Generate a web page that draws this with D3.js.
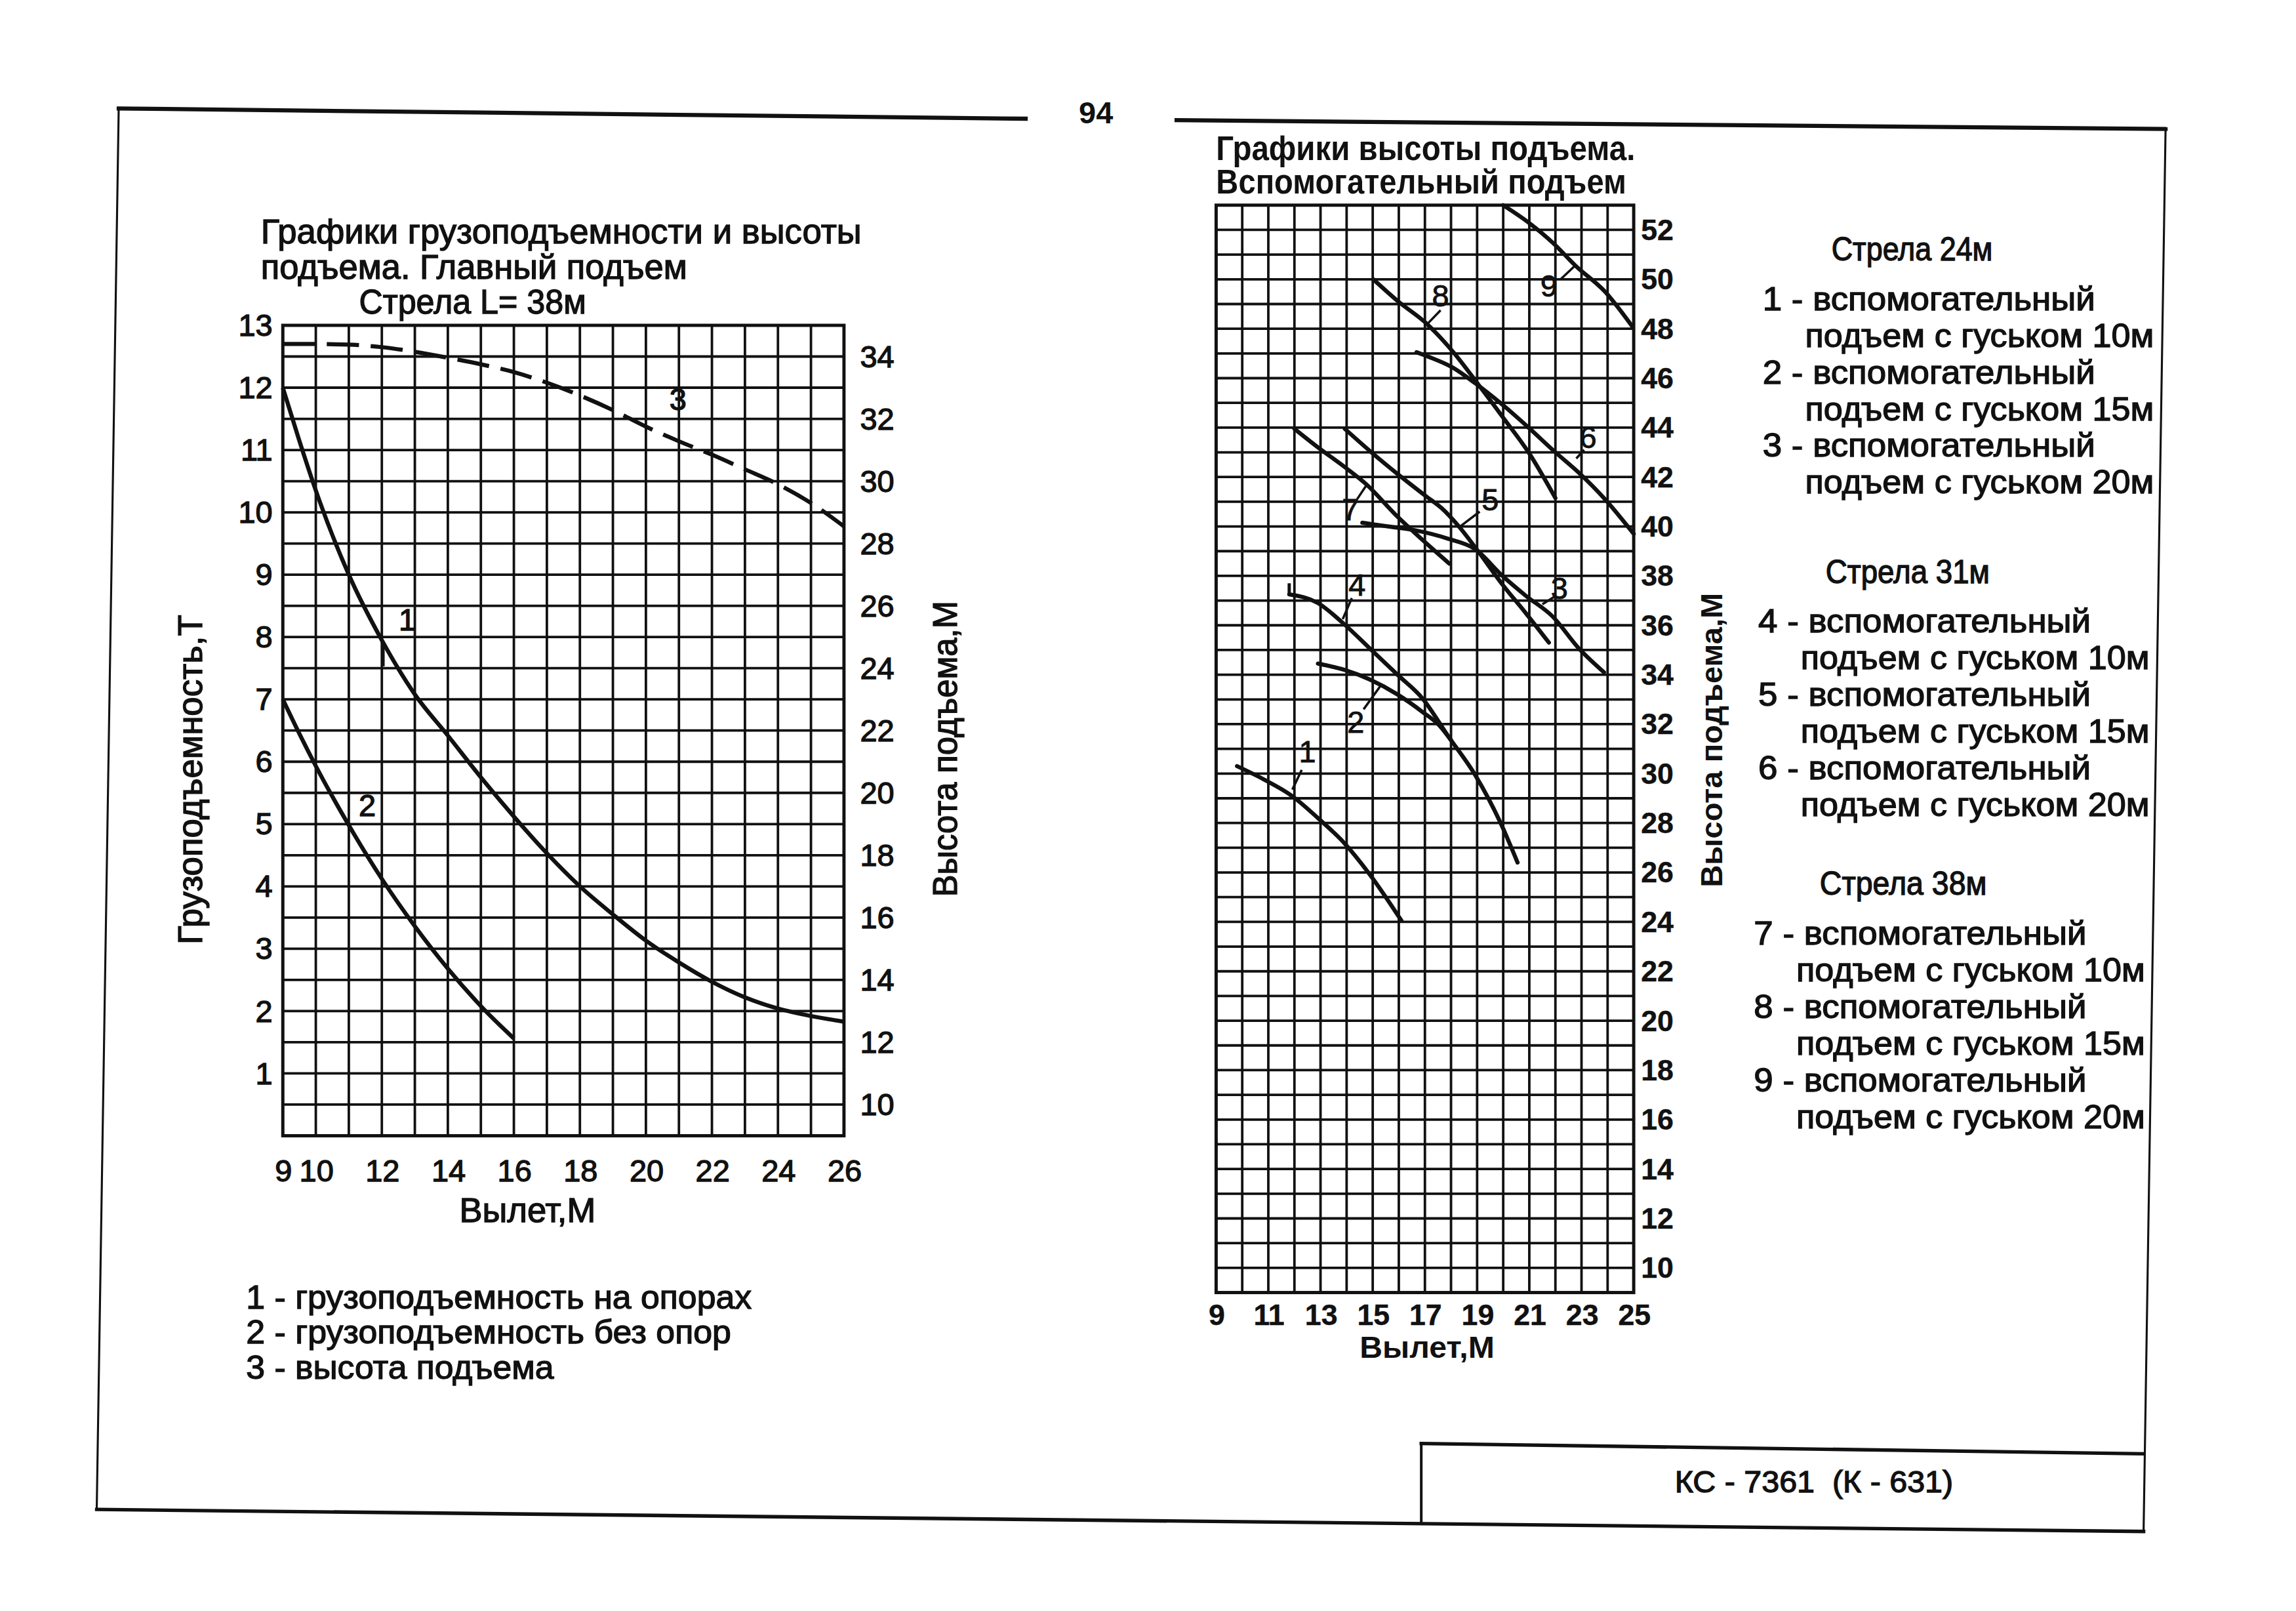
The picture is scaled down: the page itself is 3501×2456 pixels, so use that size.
<!DOCTYPE html>
<html lang="ru"><head><meta charset="utf-8">
<title>КС-7361 (К-631)</title>
<script src="https://cdn.jsdelivr.net/npm/d3@7/dist/d3.min.js"></script>
<style>
html,body{margin:0;padding:0;background:#fff;overflow:hidden;}
svg{display:block;}
text{white-space:pre;}
</style></head><body>
<svg id="chart" width="3501" height="2456" viewBox="0 0 1567 1099.3" xmlns="http://www.w3.org/2000/svg"></svg>
<script>
// ================= DATA =================
// Left chart: main hoist, boom L = 38 m  (radius m -> capacity t / height m)
const leftRadiusTicks = [9, 10, 12, 14, 16, 18, 20, 22, 24, 26];
const capacityTicks = [1, 2, 3, 4, 5, 6, 7, 8, 9, 10, 11, 12, 13];
const leftHeightTicks = [10, 12, 14, 16, 18, 20, 22, 24, 26, 28, 30, 32, 34];
const capacityOnOutriggers = [[9,12.0],[9.5,11.15],[10,10.35],[11,9.0],[12,7.95],[13,7.08],[14,6.42],[15,5.75],[16,5.12],[17,4.53],[18,4.0],[19,3.55],[20,3.13],[21,2.78],[22,2.47],[23,2.22],[24,2.04],[25,1.92],[26,1.83]];
const capacityWithoutOutriggers = [[9,7.0],[9.5,6.45],[10,5.93],[11,4.98],[12,4.12],[13,3.36],[14,2.68],[15,2.08],[16,1.56]];
const mainHookHeight = [[9,34.4],[10,34.4],[11,34.38],[12,34.3],[13,34.15],[14,33.96],[15,33.75],[16,33.5],[17,33.16],[18,32.75],[19,32.28],[20,31.75],[21,31.28],[22,30.85],[23,30.38],[24,29.9],[25,29.3],[26,28.55]];
const leftLegend = ["1 - грузоподъемность на опорах", "2 - грузоподъемность без опор", "3 - высота подъема"];

// Right chart: auxiliary hoist heights (radius m -> height m)
const rightRadiusTicks = [9, 11, 13, 15, 17, 19, 21, 23, 25];
const rightHeightTicks = [10,12,14,16,18,20,22,24,26,28,30,32,34,36,38,40,42,44,46,48,50,52];
const boom24jib10 = [[9.8,30.3],[10.85,29.75],[11.9,29.1],[12.9,28.2],[13.9,27.2],[14.9,25.9],[16.1,24.05]];
const boom24jib15 = [[12.9,34.45],[13.9,34.2],[14.9,33.8],[15.95,33.2],[16.9,32.5],[17.55,31.95],[18.0,31.35]];
const boom24jib20 = [[14.6,40.15],[15.6,40.0],[16.6,39.85],[17.9,39.5],[18.9,39.1],[19.97,38.0],[20.86,37.2],[21.9,36.35],[22.9,35.06],[23.86,34.1]];
const boom31jib10 = [[11.8,37.25],[12.9,36.9],[13.85,36.1],[14.9,35.05],[15.95,34.0],[16.9,33.05],[17.9,31.5],[18.95,29.9],[19.9,28.0],[20.55,26.4]];
const boom31jib15 = [[13.93,43.95],[14.95,43.0],[15.98,42.1],[17.07,41.2],[17.64,40.74],[18.3,40.0],[19.0,39.05],[19.97,37.65],[20.86,36.5],[21.75,35.3]];
const boom31jib20 = [[16.68,47.05],[17.13,46.87],[18.03,46.45],[18.92,45.8],[20.0,44.9],[20.97,44.0],[22.0,43.0],[22.9,42.17],[23.9,41.1],[25.0,39.7]];
const boom38jib10 = [[12.0,43.95],[12.9,43.2],[13.93,42.4],[14.76,41.7],[15.85,40.5],[17.07,39.3],[17.93,38.5]];
const boom38jib15 = [[15.02,50.0],[15.98,49.1],[17.07,48.2],[18.09,47.05],[19.05,45.74],[20.0,44.4],[20.97,43.0],[22.0,41.15]];
const boom38jib20 = [[20.0,53.0],[20.97,52.3],[21.93,51.45],[22.76,50.56],[23.9,49.5],[24.94,48.1]];
const boomTitles = ["Стрела 24м", "Стрела 31м", "Стрела 38м"];
const jibLengths = ["10м", "15м", "20м"];

// ================= DRAWING =================
const FONT = '"Liberation Sans", Arial, sans-serif';
const INK = "#111";
const svg = d3.select("#chart");
svg.append("rect").attr("width", 1567).attr("height", 1099.3).attr("fill", "#fff");

function label(g, str, x, y, o = {}) {
  const t = g.append("text")
    .attr("x", x).attr("y", y).attr("dy", "0.35em")
    .attr("font-family", FONT)
    .attr("font-size", o.size || 23)
    .attr("font-weight", o.weight || "normal")
    .attr("text-anchor", o.anchor || "start")
    .attr("fill", INK)
    .attr("stroke", INK).attr("stroke-width", o.sw === undefined ? 0.6 : o.sw)
    .text(str);
  if (o.len) t.attr("textLength", o.len).attr("lengthAdjust", "spacingAndGlyphs");
  if (o.rotate) t.attr("transform", `rotate(${o.rotate},${x},${y})`);
  return t;
}

// ---- page frame (scan is slightly rotated) ----
const frame = svg.append("g").attr("fill", "none").attr("stroke", INK).attr("stroke-linecap", "square");
frame.append("path").attr("d", "M81,74 L700,81").attr("stroke-width", 2.8);
frame.append("path").attr("d", "M81,74 L66,1030").attr("stroke-width", 1.4);
frame.append("path").attr("d", "M803,82 L1478,88").attr("stroke-width", 2.8);
frame.append("path").attr("d", "M1478,88 L1463,1045").attr("stroke-width", 1.4);
frame.append("path").attr("d", "M66,1030 L1463,1045").attr("stroke-width", 2.4);
frame.append("path").attr("d", "M970,985 L1463,992").attr("stroke-width", 2.4);
frame.append("path").attr("d", "M970,985 L970,1038").attr("stroke-width", 1.8);
label(svg, "94", 748, 77, {size: 21, weight: "bold", anchor: "middle", sw: 0});
label(svg, "КС - 7361  (К - 631)", 1238, 1011, {size: 21, anchor: "middle", len: 190});

// ================= LEFT CHART =================
const xL = d3.scaleLinear().domain([9, 26]).range([193, 576]);
const yL = d3.scaleLinear().domain([0, 13]).range([775, 222]);
const yLH = d3.scaleLinear().domain([9, 35]).range([775, 222]);
const gL = svg.append("g");

gL.append("g").selectAll("line").data(d3.range(9, 27, 1)).join("line")
  .attr("x1", d => xL(d)).attr("x2", d => xL(d))
  .attr("y1", yL(0)).attr("y2", yL(13))
  .attr("stroke", INK).attr("stroke-width", 1.7);
gL.append("g").selectAll("line").data(d3.range(0, 13.001, 0.5)).join("line")
  .attr("x1", xL(9)).attr("x2", xL(26))
  .attr("y1", d => yL(d)).attr("y2", d => yL(d))
  .attr("stroke", INK).attr("stroke-width", 1.7);
gL.append("rect").attr("x", xL(9)).attr("y", yL(13))
  .attr("width", xL(26) - xL(9)).attr("height", yL(0) - yL(13))
  .attr("fill", "none").attr("stroke", INK).attr("stroke-width", 2.2);

function styleAxis(sel, size, weight) {
  sel.select(".domain").remove();
  sel.attr("font-family", FONT).attr("font-size", size).attr("font-weight", weight);
  sel.selectAll("text").attr("fill", INK).attr("stroke", INK).attr("stroke-width", weight === "bold" ? 0.2 : 0.6);
}
gL.append("g").attr("transform", `translate(${xL(9)},0)`)
  .call(d3.axisLeft(yL).tickValues(capacityTicks).tickSize(0).tickPadding(7))
  .call(s => styleAxis(s, 21, "normal"));
gL.append("g").attr("transform", `translate(${xL(26)},0)`)
  .call(d3.axisRight(yLH).tickValues(leftHeightTicks).tickSize(0).tickPadding(11))
  .call(s => styleAxis(s, 21, "normal"));
gL.append("g").attr("transform", `translate(0,${yL(0)})`)
  .call(d3.axisBottom(xL).tickValues(leftRadiusTicks).tickSize(0).tickPadding(16))
  .call(s => styleAxis(s, 21, "normal"));

const lineT = d3.line().x(d => xL(d[0])).y(d => yL(d[1])).curve(d3.curveMonotoneX);
const lineH = d3.line().x(d => xL(d[0])).y(d => yLH(d[1])).curve(d3.curveMonotoneX);
gL.append("path").attr("d", lineT(capacityOnOutriggers)).attr("fill", "none").attr("stroke", INK).attr("stroke-width", 2.8);
gL.append("path").attr("d", lineT(capacityWithoutOutriggers)).attr("fill", "none").attr("stroke", INK).attr("stroke-width", 2.8);
gL.append("path").attr("d", lineH(mainHookHeight)).attr("fill", "none").attr("stroke", INK).attr("stroke-width", 2.8)
  .attr("stroke-dasharray", "22,8");

// curve numbers
label(gL, "1", xL(12.77), yL(8.28), {size: 21, anchor: "middle"});
gL.append("line").attr("x1", xL(12.05)).attr("x2", xL(12.05)).attr("y1", yL(7.88)).attr("y2", yL(7.53))
  .attr("stroke", INK).attr("stroke-width", 1.6);
label(gL, "2", xL(11.56), yL(5.3), {size: 21, anchor: "middle"});
label(gL, "3", xL(20.97), yLH(32.64), {size: 21, anchor: "middle"});

// titles and axis names
label(svg, "Графики грузоподъемности и высоты", 178, 158, {len: 410});
label(svg, "подъема. Главный подъем", 178, 182, {len: 291});
label(svg, "Стрела L= 38м", 245, 206, {len: 155});
label(svg, "Вылет,М", 360, 826, {anchor: "middle", len: 93});
label(svg, "Грузоподъемность,Т", 130, 532, {anchor: "middle", len: 225, rotate: -90});
label(svg, "Высота подъема,М", 645, 511, {anchor: "middle", len: 202, rotate: -90});

const legendLens = [345, 331, 210];
leftLegend.forEach((s, i) => label(svg, s, 168, 885 + i * 24, {size: 22.5, len: legendLens[i]}));

// ================= RIGHT CHART =================
const xR = d3.scaleLinear().domain([9, 25]).range([830, 1115]);
const yR = d3.scaleLinear().domain([9, 53]).range([882, 140]);
const gR = svg.append("g");

gR.append("g").selectAll("line").data(d3.range(9, 26, 1)).join("line")
  .attr("x1", d => xR(d)).attr("x2", d => xR(d))
  .attr("y1", yR(9)).attr("y2", yR(53))
  .attr("stroke", INK).attr("stroke-width", 1.7);
gR.append("g").selectAll("line").data(d3.range(9, 53.001, 1)).join("line")
  .attr("x1", xR(9)).attr("x2", xR(25))
  .attr("y1", d => yR(d)).attr("y2", d => yR(d))
  .attr("stroke", INK).attr("stroke-width", 1.7);
gR.append("rect").attr("x", xR(9)).attr("y", yR(53))
  .attr("width", xR(25) - xR(9)).attr("height", yR(9) - yR(53))
  .attr("fill", "none").attr("stroke", INK).attr("stroke-width", 2.2);

gR.append("g").attr("transform", `translate(${xR(25)},0)`)
  .call(d3.axisRight(yR).tickValues(rightHeightTicks).tickSize(0).tickPadding(5))
  .call(s => styleAxis(s, 20, "bold"));
gR.append("g").attr("transform", `translate(0,${yR(9)})`)
  .call(d3.axisBottom(xR).tickValues(rightRadiusTicks).tickSize(0).tickPadding(8))
  .call(s => styleAxis(s, 20, "bold"));

const lineR = d3.line().x(d => xR(d[0])).y(d => yR(d[1])).curve(d3.curveMonotoneX);
const auxSeries = [boom24jib10, boom24jib15, boom24jib20, boom31jib10, boom31jib15, boom31jib20, boom38jib10, boom38jib15, boom38jib20];
gR.append("g").selectAll("path").data(auxSeries).join("path")
  .attr("d", d => lineR(d)).attr("fill", "none").attr("stroke", INK).attr("stroke-width", 2.8)
  .attr("stroke-linecap", "round");
// small start tick of curve 4
gR.append("line").attr("x1", xR(boom31jib10[0][0])).attr("x2", xR(boom31jib10[0][0]))
  .attr("y1", yR(boom31jib10[0][1])).attr("y2", yR(boom31jib10[0][1] + 0.45))
  .attr("stroke", INK).attr("stroke-width", 2.2);

// curve numbers with leader strokes (data units)
const rightLabels = [
  {t: "1", x: 12.5, h: 30.9, l: [[12.28, 30.15], [11.92, 29.35]]},
  {t: "2", x: 14.35, h: 32.1, l: [[14.65, 32.6], [15.3, 33.55]]},
  {t: "3", x: 22.15, h: 37.5, l: [[21.95, 37.15], [21.5, 36.85]]},
  {t: "4", x: 14.4, h: 37.65, l: [[14.2, 37.1], [13.85, 36.25]]},
  {t: "5", x: 19.5, h: 41.1, l: [[19.1, 40.6], [18.35, 40.0]]},
  {t: "6", x: 23.25, h: 43.6, l: [[23.1, 43.1], [22.8, 42.75]]},
  {t: "7", x: 14.15, h: 40.7, l: [[14.4, 41.1], [14.78, 41.7]]},
  {t: "8", x: 17.6, h: 49.35, l: [[17.6, 48.75], [17.1, 48.2]]},
  {t: "9", x: 21.75, h: 49.75, l: [[22.2, 50.0], [22.76, 50.56]]}
];
rightLabels.forEach(d => {
  label(gR, d.t, xR(d.x), yR(d.h), {size: 21, anchor: "middle", sw: 0.4});
  gR.append("line").attr("x1", xR(d.l[0][0])).attr("y1", yR(d.l[0][1]))
    .attr("x2", xR(d.l[1][0])).attr("y2", yR(d.l[1][1]))
    .attr("stroke", INK).attr("stroke-width", 1.6);
});

label(svg, "Графики высоты подъема.", 830, 101, {weight: "bold", len: 286, sw: 0});
label(svg, "Вспомогательный подъем", 830, 124, {weight: "bold", len: 280, sw: 0});
label(svg, "Вылет,М", 974, 919, {weight: "bold", anchor: "middle", len: 92, size: 21, sw: 0});
label(svg, "Высота подъема,М", 1168, 505, {weight: "bold", anchor: "middle", len: 201, size: 21, rotate: -90, sw: 0});

// right legend: three boom groups, three jib variants each
const groupTop = [170, 390, 603];
boomTitles.forEach((title, g) => {
  const shift = -3 * g;
  label(svg, title, 1250 + shift - g, groupTop[g], {size: 22, len: 110 + 2 * g});
  jibLengths.forEach((jib, j) => {
    const n = g * 3 + j + 1;
    const y0 = groupTop[g] + 34 + j * 50;
    label(svg, `${n} - вспомогательный`, 1203 + shift, y0, {size: 22, len: 227});
    label(svg, `подъем с гуськом ${jib}`, 1232 + shift, y0 + 25, {size: 22, len: 238});
  });
});
</script>
</body></html>
